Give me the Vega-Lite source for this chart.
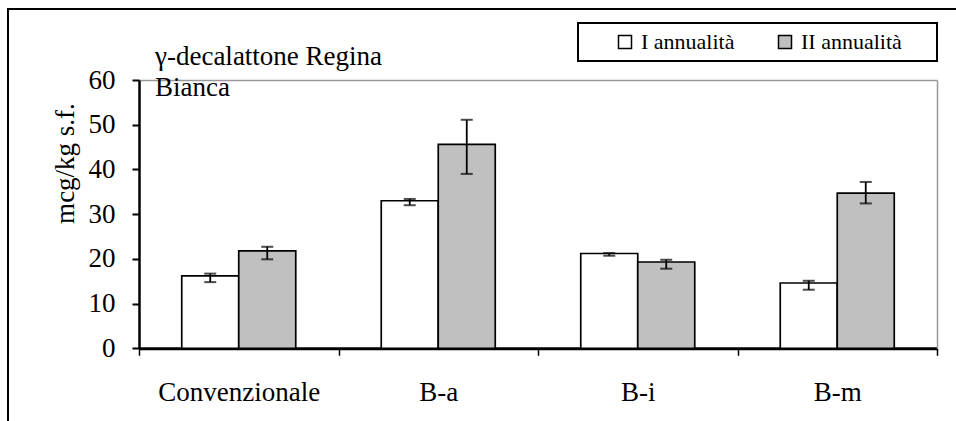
{
  "$schema": "https://vega.github.io/schema/vega-lite/v6.json",
  "width": 950,
  "height": 414,
  "autosize": {"type": "none"},
  "padding": {"left": 8, "top": 9, "right": -2, "bottom": -2},
  "background": "white",
  "title": {
    "text": ["γ-decalattone Regina", "Bianca"],
    "anchor": "start",
    "frame": "group",
    "orient": "top",
    "offset": 0,
    "dy": 93,
    "dx": 147,
    "lineHeight": 31,
    "font": "Liberation Serif",
    "fontSize": 27,
    "fontWeight": "normal",
    "color": "black"
  },
  "data": {
    "values": [
      {"gruppo": "Convenzionale", "anno": "I annualità", "media": 16.2, "min": 14.8, "max": 16.7},
      {"gruppo": "Convenzionale", "anno": "II annualità", "media": 21.8, "min": 19.9, "max": 22.7},
      {"gruppo": "B-a", "anno": "I annualità", "media": 33.0, "min": 32.0, "max": 33.4},
      {"gruppo": "B-a", "anno": "II annualità", "media": 45.6, "min": 39.0, "max": 51.1},
      {"gruppo": "B-i", "anno": "I annualità", "media": 21.2, "min": 20.7, "max": 21.3},
      {"gruppo": "B-i", "anno": "II annualità", "media": 19.3, "min": 17.8, "max": 19.8},
      {"gruppo": "B-m", "anno": "I annualità", "media": 14.6, "min": 13.1, "max": 15.1},
      {"gruppo": "B-m", "anno": "II annualità", "media": 34.7, "min": 32.4, "max": 37.2}
    ]
  },
  "encoding": {
    "xOffset": {
      "field": "anno",
      "type": "nominal",
      "scale": {"paddingInner": 0, "paddingOuter": 0.75}
    }
  },
  "layer": [
    {
      "mark": {"type": "bar", "stroke": "black", "strokeWidth": 1.7},
      "encoding": {
        "x": {
          "field": "gruppo",
          "type": "nominal",
          "sort": ["Convenzionale", "B-a", "B-i", "B-m"],
          "scale": {"range": [131, 929], "paddingInner": 0, "paddingOuter": 0},
          "axis": {
            "orient": "bottom",
            "offset": -74.7,
            "title": null,
            "labelAngle": 0,
            "tickBand": "extent",
            "domainColor": "black",
            "domainWidth": 3,
            "tickColor": "black",
            "tickWidth": 1.5,
            "tickSize": 7,
            "labelFont": "Liberation Serif",
            "labelFontSize": 27,
            "labelColor": "black",
            "labelPadding": 24
          }
        },
        "y": {
          "field": "media",
          "type": "quantitative",
          "scale": {"domain": [0, 60], "nice": false, "range": [339.3, 71]},
          "axis": {
            "orient": "left",
            "offset": -131,
            "title": "mcg/kg s.f.",
            "values": [0, 10, 20, 30, 40, 50, 60],
            "grid": false,
            "domainColor": "black",
            "domainWidth": 2.5,
            "tickColor": "black",
            "tickWidth": 2,
            "tickSize": 7,
            "labelFont": "Liberation Serif",
            "labelFontSize": 27,
            "labelColor": "black",
            "labelPadding": 17,
            "titleFont": "Liberation Serif",
            "titleFontSize": 27,
            "titleFontWeight": "normal",
            "titleColor": "black",
            "titleAngle": -90,
            "titleAlign": "center",
            "titleBaseline": "alphabetic",
            "titleX": -66,
            "titleY": 154
          }
        },
        "fill": {
          "field": "anno",
          "type": "nominal",
          "scale": {"domain": ["I annualità", "II annualità"], "range": ["white", "#c0c0c0"]},
          "legend": {
            "title": null,
            "orient": "none",
            "legendX": 570,
            "legendY": 14,
            "direction": "horizontal",
            "strokeColor": "black",
            "fillColor": "white",
            "padding": 8,
            "symbolOffset": 28,
            "columnPadding": 11,
            "symbolType": "square",
            "symbolSize": 169,
            "symbolStrokeColor": "black",
            "symbolStrokeWidth": 1.5,
            "labelFont": "Liberation Serif",
            "labelFontSize": 22,
            "labelColor": "black",
            "labelOffset": 5,
            "labelExpr": "datum.label == 'II annualità' ? datum.label + '\u2002\u2800' : datum.label",
            "encode": {
              "legend": {"update": {"strokeWidth": {"value": 2}}}
            }
          }
        }
      }
    },
    {
      "mark": {"type": "rule", "color": "black", "strokeWidth": 1.8},
      "encoding": {
        "x": {
          "field": "gruppo",
          "type": "nominal",
          "sort": ["Convenzionale", "B-a", "B-i", "B-m"],
          "scale": {"range": [131, 929], "paddingInner": 0, "paddingOuter": 0},
          "axis": {
            "orient": "top",
            "offset": -71,
            "title": null,
            "ticks": false,
            "labels": false,
            "domainColor": "#999999",
            "domainWidth": 1.5
          }
        },
        "y": {
          "field": "min",
          "type": "quantitative",
          "scale": {"domain": [0, 60], "nice": false, "range": [339.3, 71]},
          "axis": {
            "orient": "right",
            "offset": -21,
            "title": null,
            "ticks": false,
            "labels": false,
            "grid": false,
            "domainColor": "#999999",
            "domainWidth": 1.5
          }
        },
        "y2": {"field": "max"}
      }
    },
    {
      "mark": {"type": "tick", "color": "black", "thickness": 2, "size": 12},
      "encoding": {
        "x": {
          "field": "gruppo",
          "type": "nominal",
          "sort": ["Convenzionale", "B-a", "B-i", "B-m"],
          "scale": {"range": [131, 929], "paddingInner": 0, "paddingOuter": 0},
          "axis": null
        },
        "y": {
          "field": "min",
          "type": "quantitative",
          "scale": {"domain": [0, 60], "nice": false, "range": [339.3, 71]},
          "axis": null
        }
      }
    },
    {
      "mark": {"type": "tick", "color": "black", "thickness": 2, "size": 12},
      "encoding": {
        "x": {
          "field": "gruppo",
          "type": "nominal",
          "sort": ["Convenzionale", "B-a", "B-i", "B-m"],
          "scale": {"range": [131, 929], "paddingInner": 0, "paddingOuter": 0},
          "axis": null
        },
        "y": {
          "field": "max",
          "type": "quantitative",
          "scale": {"domain": [0, 60], "nice": false, "range": [339.3, 71]},
          "axis": null
        }
      }
    }
  ],
  "resolve": {"axis": {"x": "independent", "y": "independent"}},
  "config": {
    "view": {"stroke": "black", "strokeWidth": 2},
    "font": "Liberation Serif",
    "title": {"font": "Liberation Serif", "fontWeight": "normal"},
    "legend": {"labelFont": "Liberation Serif"}
  }
}
